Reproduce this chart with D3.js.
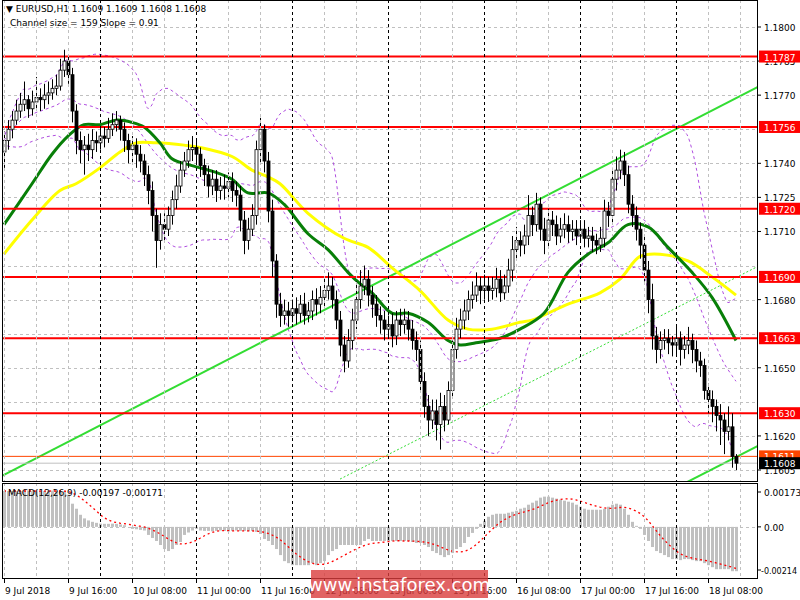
<!DOCTYPE html>
<html><head><meta charset="utf-8">
<script src="https://cdn.jsdelivr.net/npm/d3@7"></script>
<style>body{margin:0;background:#fff}svg{display:block}text{font-family:"DejaVu Sans",Verdana,sans-serif}</style>
</head><body><svg id="c" width="800" height="600"></svg>
<script>
const firstOpen = 1.1745;
const closes = [1.1750,1.1755,1.1759,1.1763,1.1766,1.1768,1.1764,1.1767,1.1769,1.1768,
1.1770,1.1771,1.1773,1.1774,1.1781,1.1785,1.1779,1.1763,1.1750,1.1746,
1.1748,1.1746,1.1750,1.1749,1.1752,1.1751,1.1755,1.1757,1.1759,1.1755,
1.1750,1.1746,1.1748,1.1744,1.1741,1.1735,1.1728,1.1717,1.1706,1.1713,
1.1711,1.1717,1.1724,1.1730,1.1737,1.1741,1.1746,1.1747,1.1744,1.1739,
1.1735,1.1730,1.1733,1.1728,1.1730,1.1729,1.1732,1.1728,1.1726,1.1715,
1.1706,1.1711,1.1717,1.1746,1.1755,1.1741,1.1719,1.1697,1.1678,1.1673,
1.1675,1.1673,1.1676,1.1674,1.1678,1.1673,1.1675,1.1680,1.1678,1.1681,
1.1684,1.1686,1.1680,1.1671,1.1660,1.1653,1.1662,1.1671,1.1680,1.1686,
1.1689,1.1682,1.1678,1.1673,1.1671,1.1667,1.1669,1.1664,1.1671,1.1669,
1.1671,1.1667,1.1662,1.1658,1.1644,1.1633,1.1627,1.1631,1.1625,1.1633,
1.1627,1.1640,1.1658,1.1667,1.1671,1.1675,1.1680,1.1682,1.1686,1.1684,
1.1686,1.1684,1.1685,1.1689,1.1683,1.1686,1.1693,1.1702,1.1706,1.1704,
1.1708,1.1717,1.1713,1.1722,1.1711,1.1706,1.1715,1.1713,1.1708,1.1711,
1.1713,1.1710,1.1711,1.1708,1.1711,1.1707,1.1708,1.1706,1.1704,1.1707,
1.1719,1.1717,1.1733,1.1737,1.1741,1.1735,1.1722,1.1717,1.1711,1.1704,
1.1693,1.1680,1.1664,1.1658,1.1662,1.1663,1.1661,1.1660,1.1663,1.1658,
1.1660,1.1662,1.1658,1.1653,1.1651,1.1640,1.1636,1.1633,1.1629,1.1627,
1.1622,1.1624,1.1611,1.1608];
const highs = [1.1754,1.1759,1.1763,1.1768,1.1771,1.1776,1.1770,1.1772,1.1778,1.1773,
1.1775,1.1776,1.1777,1.1779,1.1786,1.1790,1.1788,1.1782,1.1766,1.1754,
1.1752,1.1753,1.1755,1.1754,1.1756,1.1756,1.1760,1.1762,1.1763,1.1761,
1.1758,1.1753,1.1752,1.1751,1.1748,1.1744,1.1739,1.1732,1.1720,1.1718,
1.1718,1.1721,1.1728,1.1735,1.1741,1.1745,1.1750,1.1752,1.1751,1.1747,
1.1742,1.1739,1.1737,1.1737,1.1734,1.1735,1.1736,1.1736,1.1732,1.1730,
1.1719,1.1716,1.1722,1.1750,1.1760,1.1757,1.1745,1.1724,1.1700,1.1683,
1.1680,1.1679,1.1680,1.1681,1.1682,1.1683,1.1679,1.1684,1.1685,1.1686,
1.1690,1.1692,1.1690,1.1684,1.1675,1.1664,1.1667,1.1676,1.1688,1.1693,
1.1695,1.1693,1.1686,1.1682,1.1677,1.1675,1.1673,1.1674,1.1675,1.1676,
1.1676,1.1675,1.1671,1.1666,1.1662,1.1648,1.1638,1.1636,1.1636,1.1639,
1.1638,1.1644,1.1662,1.1672,1.1676,1.1680,1.1684,1.1688,1.1692,1.1690,
1.1691,1.1690,1.1690,1.1694,1.1693,1.1691,1.1698,1.1708,1.1712,1.1710,
1.1713,1.1726,1.1721,1.1727,1.1725,1.1716,1.1720,1.1719,1.1717,1.1716,
1.1718,1.1717,1.1715,1.1715,1.1715,1.1715,1.1712,1.1712,1.1709,1.1712,
1.1724,1.1723,1.1738,1.1743,1.1746,1.1745,1.1739,1.1726,1.1721,1.1714,
1.1708,1.1697,1.1687,1.1668,1.1666,1.1667,1.1667,1.1664,1.1668,1.1666,
1.1664,1.1668,1.1665,1.1662,1.1657,1.1654,1.1643,1.1640,1.1636,1.1634,
1.1630,1.1633,1.1630,1.1612];
const lows = [1.1738,1.1746,1.1751,1.1757,1.1760,1.1763,1.1760,1.1761,1.1764,1.1763,
1.1764,1.1766,1.1768,1.1770,1.1772,1.1778,1.1775,1.1758,1.1744,1.1740,
1.1735,1.1741,1.1742,1.1745,1.1746,1.1747,1.1749,1.1752,1.1754,1.1750,
1.1745,1.1740,1.1740,1.1738,1.1736,1.1730,1.1722,1.1710,1.1694,1.1702,
1.1706,1.1708,1.1713,1.1720,1.1727,1.1734,1.1738,1.1741,1.1740,1.1734,
1.1730,1.1725,1.1726,1.1723,1.1724,1.1724,1.1725,1.1723,1.1721,1.1710,
1.1700,1.1702,1.1708,1.1713,1.1740,1.1736,1.1714,1.1690,1.1672,1.1668,
1.1669,1.1668,1.1670,1.1669,1.1670,1.1669,1.1670,1.1671,1.1673,1.1674,
1.1677,1.1680,1.1676,1.1667,1.1655,1.1648,1.1650,1.1658,1.1667,1.1676,
1.1682,1.1677,1.1672,1.1668,1.1665,1.1662,1.1663,1.1659,1.1660,1.1664,
1.1665,1.1662,1.1658,1.1653,1.1639,1.1628,1.1620,1.1623,1.1618,1.1614,
1.1622,1.1625,1.1637,1.1654,1.1663,1.1667,1.1671,1.1676,1.1679,1.1678,
1.1680,1.1679,1.1680,1.1681,1.1679,1.1680,1.1683,1.1688,1.1698,1.1699,
1.1700,1.1704,1.1708,1.1710,1.1706,1.1700,1.1703,1.1708,1.1704,1.1705,
1.1707,1.1705,1.1706,1.1704,1.1705,1.1703,1.1703,1.1701,1.1700,1.1701,
1.1703,1.1712,1.1714,1.1728,1.1733,1.1730,1.1718,1.1712,1.1706,1.1698,
1.1688,1.1674,1.1658,1.1652,1.1654,1.1658,1.1656,1.1655,1.1656,1.1651,
1.1654,1.1656,1.1652,1.1648,1.1646,1.1636,1.1630,1.1626,1.1622,1.1616,
1.1612,1.1618,1.1606,1.1605];
// moving averages: [candle index, price]
const maGreen = [[0,1.1713],[7,1.1731],[12,1.1744],[16,1.1752],[20,1.1757],[24,1.1757],[28,1.1759],[32,1.1758],[35,1.1756],[39,1.1749],[42,1.1742],[47,1.1739],[53,1.1736],[57,1.1733],[61,1.1727],[66,1.1727],[70,1.1722],[76,1.1709],[81,1.1702],[86,1.1692],[89,1.1687],[92,1.1683],[97,1.1674],[101,1.1674],[106,1.1670],[111,1.1662],[114,1.1660],[118,1.1661],[124,1.1663],[129,1.1667],[135,1.1674],[141,1.1692],[146,1.1700],[151,1.1705],[156,1.1713],[161,1.1712],[166,1.1703],[172,1.1692],[177,1.1681],[183,1.1662]];
const maYellow = [[0,1.1700],[7,1.1715],[14,1.1728],[18,1.1731],[24,1.1738],[29,1.1745],[33,1.1749],[38,1.1749],[45,1.1748],[49,1.1747],[57,1.1743],[62,1.1737],[66,1.1734],[69,1.1731],[76,1.1718],[85,1.1707],[91,1.1703],[97,1.1694],[104,1.1684],[111,1.1671],[116,1.1667],[122,1.1667],[129,1.1670],[132,1.1671],[141,1.1678],[149,1.1683],[154,1.1689],[159,1.1699],[164,1.1700],[171,1.1697],[177,1.1690],[183,1.1682]];
const macdHist = [0.00178,0.00178,0.00178,0.00178,0.00178,0.00178,
0.00178,0.00178,0.00176,0.00176,0.00178,0.00180,0.00180,0.00178,0.00178,0.00176,
0.00160,0.00115,0.00090,0.00060,0.00042,0.00032,0.00025,0.00020,
0.00016,0.00015,0.00015,0.00016,0.00015,0.00012,0.00008,
0.0,-0.0001,-0.00012,-0.00015,-0.00018,
-0.0004,-0.00055,-0.0007,-0.0009,-0.0011,-0.0012,-0.0011,-0.0009,-0.00075,-0.0004,-0.00028,-0.00018,-0.0001,
-0.00018,-0.0002,-0.0002,-0.00022,-0.0002,-0.00018,-0.0002,-0.00022,-0.0002,-0.00018,-0.0002,-0.0002,-0.00022,-0.0002,-0.00025,
-0.00035,-0.0006,-0.0007,-0.0009,-0.0011,-0.0014,-0.0017,
-0.0018,-0.0019,-0.0019,-0.0019,-0.0019,-0.0019,-0.0018,-0.0019,-0.0018,
-0.0017,-0.0014,-0.0012,-0.0011,-0.0009,-0.0009,-0.0009,-0.0009,-0.0009,-0.0009,-0.0007,
-0.0006,-0.0007,-0.0007,-0.0007,-0.0007,-0.0007,-0.0007,-0.0007,-0.0007,-0.0007,-0.0007,-0.00075,-0.0008,
-0.0008,-0.0009,-0.0010,-0.0012,-0.0013,-0.0014,-0.0015,-0.0014,-0.0013,-0.0011,-0.0010,-0.0008,-0.0005,-0.0003,-0.0001,
0.00015,0.0003,0.0005,0.0006,0.00065,0.00065,0.00065,0.0007,0.00075,0.0008,0.0009,0.00095,0.0011,0.0012,0.0013,
0.00145,0.0015,0.0015,0.00145,0.0014,
0.00135,0.0013,0.00125,0.0012,0.0011,0.0010,0.0009,
0.00085,0.00085,0.00085,0.00085,
0.0009,0.0010,0.0011,0.00115,0.0011,0.0009,0.0006,0.00025,0.00005,-0.0001,-0.0004,-0.0007,-0.0010,-0.0012,-0.0013,-0.0014,-0.0015,
-0.0016,-0.0016,-0.00165,-0.0016,-0.0016,-0.00165,-0.0017,-0.0017,-0.0018,-0.0019,-0.0020,-0.0021,-0.0021,-0.0021,-0.0021,-0.0022,-0.0022];
const levels = [1.1787,1.1756,1.1720,1.1690,1.1663,1.1630];
const priceTicks = [1.1800,1.1785,1.1770,1.1755,1.1740,1.1725,1.1710,1.1695,1.1680,1.1665,1.1650,1.1635,1.1620,1.1605];
const hiddenTicks = [1.1755,1.1695,1.1665,1.1635];
const timeLabels = ["9 Jul 2018","9 Jul 16:00","10 Jul 08:00","11 Jul 00:00","11 Jul 16:00","12 Jul 08:00","13 Jul 00:00","13 Jul 16:00","16 Jul 08:00","17 Jul 00:00","17 Jul 16:00","18 Jul 08:00"];
const macdTicks = [0.00173,0.0,-0.00214];
const channel = {upper:[[-1,1.1602],[190,1.1775]], lower:[[170,1.1599],[190,1.1617]], mid:[[84,1.1601],[190,1.1696]]};
const resistLast = 1.1611, lastPrice = 1.1608;

const svg = d3.select("#c");
const x = d3.scaleLinear().domain([0,183]).range([4,736]);
const y = d3.scaleLinear().domain([1.1605,1.1800]).range([470,27]);
const ym = d3.scaleLinear().domain([-0.00214,0.00173]).range([570,492]);
const L=2, R=757, T=0, B=481, MT=483, MB=578;

const defs=svg.append("defs");
defs.append("clipPath").attr("id","mp").append("rect").attr("x",L).attr("y",T).attr("width",R-L).attr("height",B-T);
defs.append("clipPath").attr("id","mm").append("rect").attr("x",L).attr("y",MT).attr("width",R-L).attr("height",MB-MT);
const gM = svg.append("g").attr("clip-path","url(#mp)");
const gD = svg.append("g").attr("clip-path","url(#mm)");

for(let k=0;k*32+4<R;k++){
  const xx=4+32*k, mid = k>0 && k%3===0;
  [[T,B],[MT,MB]].forEach(([a,b])=>svg.append("line").attr("x1",xx+.5).attr("x2",xx+.5).attr("y1",a).attr("y2",b)
    .attr("stroke",mid?"#000":"#c0c0c0").attr("stroke-dasharray","3,3").attr("stroke-width",1));
}
priceTicks.forEach(p=>gM.append("line").attr("x1",L).attr("x2",R).attr("y1",Math.round(y(p))+.5).attr("y2",Math.round(y(p))+.5).attr("stroke","#c0c0c0").attr("stroke-dasharray","3,3"));
gD.append("line").attr("x1",L).attr("x2",R).attr("y1",Math.round(ym(0))+.5).attr("y2",Math.round(ym(0))+.5).attr("stroke","#c0c0c0").attr("stroke-dasharray","3,3");

const bb=closes.map((c,i)=>{const w=closes.slice(Math.max(0,i-19),i+1);const m=d3.mean(w);const s=Math.sqrt(d3.mean(w,v=>(v-m)*(v-m)));return {i,m,u:m+2*s,l:m-2*s};});
["u","m","l"].forEach(k=>gM.append("path").datum(bb).attr("fill","none").attr("stroke","#b04ee0").attr("stroke-dasharray","3,3")
  .attr("d",d3.line().x(d=>x(d.i)).y(d=>y(d[k])).curve(d3.curveMonotoneX)));

const ln=d3.line().x(d=>x(d[0])).y(d=>y(d[1]));
gM.append("path").datum(channel.upper).attr("stroke","#33dd33").attr("stroke-width",2).attr("d",ln);
gM.append("path").datum(channel.lower).attr("stroke","#33dd33").attr("stroke-width",2).attr("d",ln);
gM.append("path").datum(channel.mid).attr("stroke","#33dd33").attr("stroke-width",1).attr("stroke-dasharray","2,2").attr("d",ln);

const mal=d3.line().x(d=>x(d[0])).y(d=>y(d[1])).curve(d3.curveCatmullRom);
gM.append("path").datum(maYellow).attr("fill","none").attr("stroke","#ffff00").attr("stroke-width",3).attr("d",mal);
gM.append("path").datum(maGreen).attr("fill","none").attr("stroke","#087f08").attr("stroke-width",3).attr("d",mal);

levels.forEach(p=>gM.append("line").attr("x1",L).attr("x2",R).attr("y1",y(p)).attr("y2",y(p)).attr("stroke","#ff0000").attr("stroke-width",2));
gM.append("line").attr("x1",L).attr("x2",R).attr("y1",y(resistLast)).attr("y2",y(resistLast)).attr("stroke","#ff4500").attr("stroke-width",1);
gM.append("line").attr("x1",L).attr("x2",R).attr("y1",y(lastPrice)).attr("y2",y(lastPrice)).attr("stroke","#c0c0c0").attr("stroke-width",1);

closes.forEach((c,i)=>{
  const o=i===0?firstOpen:closes[i-1], xx=Math.round(x(i));
  gM.append("line").attr("x1",xx+.5).attr("x2",xx+.5).attr("y1",y(highs[i])).attr("y2",y(lows[i])).attr("stroke","#000");
  const top=y(Math.max(o,c)), bot=y(Math.min(o,c));
  gM.append("rect").attr("x",xx-1).attr("y",top).attr("width",3).attr("height",Math.max(1,bot-top))
    .attr("fill",c>=o?"#fff":"#000").attr("stroke","#000").attr("stroke-width",0.8);
});

macdHist.forEach((v,i)=>{const xx=Math.round(x(i));gD.append("rect").attr("x",xx-1).attr("width",3)
  .attr("y",Math.min(ym(v),ym(0))).attr("height",Math.abs(ym(v)-ym(0))).attr("fill","#c0c0c0");});
const sig=macdHist.map((v,i)=>[i,d3.mean(macdHist.slice(Math.max(0,i-8),i+1))]);
gD.append("path").datum(sig).attr("fill","none").attr("stroke","#ff0000").attr("stroke-dasharray","2,3").attr("stroke-width",1.3)
  .attr("d",d3.line().x(d=>x(d[0])).y(d=>ym(d[1])));

svg.append("rect").attr("x",L+.5).attr("y",T+.5).attr("width",R-L).attr("height",B-T).attr("fill","none").attr("stroke","#000");
svg.append("rect").attr("x",L+.5).attr("y",MT+.5).attr("width",R-L).attr("height",MB-MT).attr("fill","none").attr("stroke","#000");

priceTicks.filter(p=>!hiddenTicks.includes(p)).forEach(p=>{
  svg.append("line").attr("x1",R).attr("x2",R+4).attr("y1",y(p)).attr("y2",y(p)).attr("stroke","#000");
  svg.append("text").attr("x",764).attr("y",y(p)+4).attr("font-size",9).text(p.toFixed(4));
});
function tag(p,fill,col){const yy=y(p);svg.append("rect").attr("x",R+2).attr("y",yy-6).attr("width",41).attr("height",12).attr("fill",fill);
  svg.append("text").attr("x",764).attr("y",yy+4).attr("font-size",9).attr("fill",col).text(p.toFixed(4));}
levels.forEach(p=>tag(p,"#ff0000","#fff"));
tag(resistLast,"#ff4500","#fff");
tag(lastPrice,"#000","#fff");
macdTicks.forEach(v=>{svg.append("line").attr("x1",R).attr("x2",R+4).attr("y1",ym(v)).attr("y2",ym(v)).attr("stroke","#000");
  svg.append("text").attr("x",v<0?761:764).attr("y",ym(v)+4).attr("font-size",v<0?8:9).text(v===0?"0.00":v.toFixed(5));});

timeLabels.forEach((t,k)=>{const xx=4+64*k;
  svg.append("line").attr("x1",xx+.5).attr("x2",xx+.5).attr("y1",MB).attr("y2",MB+5).attr("stroke","#000");
  svg.append("text").attr("x",xx+1).attr("y",594).attr("font-size",9).text(t);});

svg.append("text").attr("x",6).attr("y",12).attr("font-size",9).text("▼ EURUSD,H1  1.1609 1.1609 1.1608 1.1608");
svg.append("text").attr("x",10).attr("y",26).attr("font-size",9).text("Channel size = 159 Slope = 0.91");
svg.append("text").attr("x",8).attr("y",496).attr("font-size",9).text("MACD(12,26,9) -0.00197 -0.00171");

svg.append("rect").attr("x",311).attr("y",570).attr("width",177).attr("height",28).attr("fill","#d93c3c").attr("opacity",0.8);
svg.append("text").attr("x",399).attr("y",591).attr("text-anchor","middle").attr("font-size",18).attr("fill","#fff").text("www.instaforex.com");
</script></body></html>
